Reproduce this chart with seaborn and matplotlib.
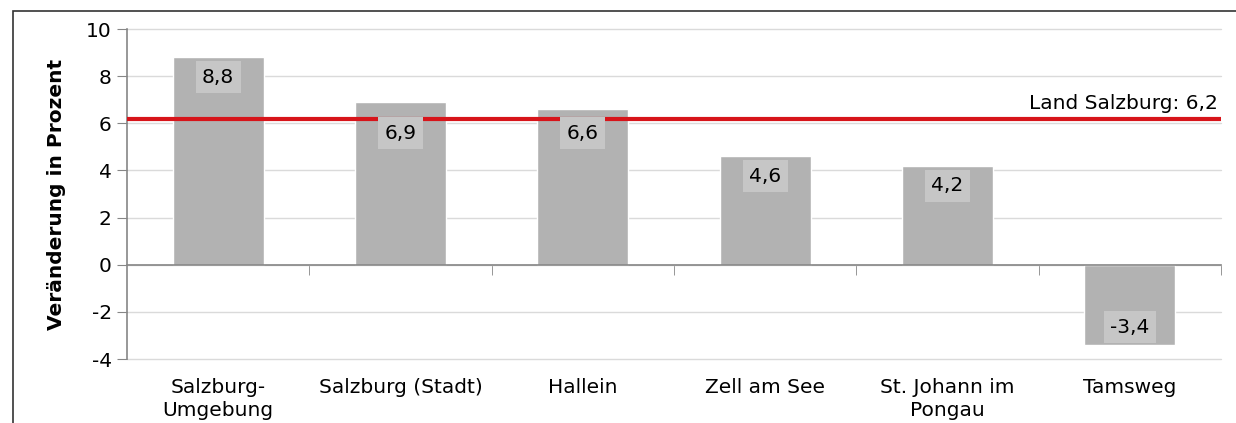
import pandas as pd
import seaborn as sns
import matplotlib.pyplot as plt
from matplotlib.patches import Rectangle

# Bezirke und Bevölkerungsveränderung in Prozent
bezirke = ["Salzburg-\nUmgebung", "Salzburg (Stadt)", "Hallein",
           "Zell am See", "St. Johann im\nPongau", "Tamsweg"]
veraenderung = [8.8, 6.9, 6.6, 4.6, 4.2, -3.4]
land_wert = 6.2
land_text = "Land Salzburg: 6,2"
y_ticks = [-4, -2, 0, 2, 4, 6, 8, 10]

df = pd.DataFrame({"bezirk": bezirke, "wert": veraenderung})

sns.set_style("white")
plt.rcParams["font.family"] = ["DejaVu Sans"]
plt.rcParams["text.color"] = "black"
plt.rcParams["xtick.color"] = "black"
plt.rcParams["ytick.color"] = "black"
plt.rcParams["axes.labelcolor"] = "black"

fig = plt.figure(figsize=(12.36, 4.23), dpi=100)
ax = fig.add_axes([0.1027, 0.1513, 0.8852, 0.7801])

sns.barplot(data=df, x="bezirk", y="wert", color="#b2b2b2", width=0.5,
            saturation=1, ax=ax, zorder=2)

ax.set_ylim(-4, 10)
ax.set_xlim(-0.5, len(bezirke) - 0.5)
ax.set_yticks(y_ticks)
ax.set_yticklabels([str(t) for t in y_ticks], fontsize=14.5)
ax.grid(axis="y", color="#dadada", linewidth=1.0, zorder=0)
ax.set_axisbelow(True)
for gl in ax.get_ygridlines():
    gl.set_clip_on(False)

# Spines: left gray axis, zero line as category axis
for s in ["top", "right"]:
    ax.spines[s].set_visible(False)
ax.spines["left"].set_color("#868686")
ax.spines["left"].set_linewidth(1.2)
ax.spines["bottom"].set_position(("data", 0))
ax.spines["bottom"].set_color("#868686")
ax.spines["bottom"].set_linewidth(1.2)
ax.spines["bottom"].set_zorder(3)
ax.tick_params(axis="y", direction="out", length=7, color="#868686",
               left=True, pad=4)

# boundary ticks on zero line
ax.set_xticks([i + 0.5 for i in range(len(bezirke))], minor=True)
ax.set_xticks([])
ax.tick_params(axis="x", which="minor", direction="out", length=7,
               color="#868686", bottom=True)

# category labels at bottom
sec = ax.secondary_xaxis("bottom")
sec.set_xticks(range(len(bezirke)), labels=bezirke, fontsize=14.5,
               linespacing=1.25)
sec.tick_params(length=0, pad=14)
sec.spines["bottom"].set_visible(False)

ax.set_xlabel("")
ax.set_ylabel("Veränderung in Prozent", fontsize=14.5, fontweight="bold",
              labelpad=14)

# Land Salzburg reference line
ax.axhline(land_wert, color="#d7141a", linewidth=3, zorder=4)
ax.text(len(bezirke) - 0.52, land_wert + 0.25, land_text, ha="right",
        va="bottom", fontsize=14.5, zorder=5)

# value labels
for i, v in enumerate(veraenderung):
    if v >= 0:
        y = v - 0.85
        if abs(y - land_wert) < 0.6:
            y = land_wert - 0.62
    else:
        y = v + 0.75
    ax.text(i, y, f"{v:.1f}".replace(".", ","), ha="center", va="center",
            fontsize=14.5, zorder=6,
            bbox=dict(boxstyle="square,pad=0.32", facecolor="#c6c6c6",
                      edgecolor="none"))

# outer frame
fig.patches.append(Rectangle((13 / 1236, -0.1), 1.2, 1.1 - 11 / 423,
                             transform=fig.transFigure, fill=False,
                             edgecolor="#333333", linewidth=1.2))

fig.savefig("out.png", dpi=100)
